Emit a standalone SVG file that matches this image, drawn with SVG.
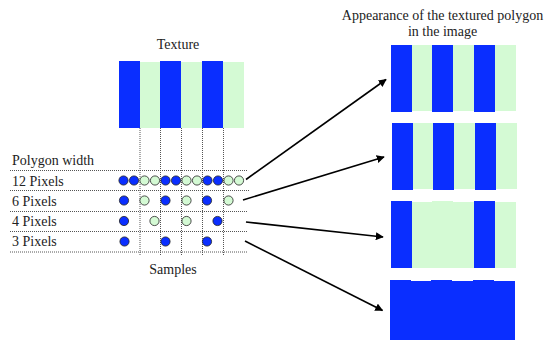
<svg xmlns="http://www.w3.org/2000/svg" width="547" height="343" viewBox="0 0 547 343">
<style>
text{font-family:"Liberation Serif","DejaVu Serif",serif;font-size:14px;fill:#222}
.b{fill:#0a2eff}
.g{fill:#d4fad4}
.cb{fill:#0a2eff;stroke:#222;stroke-width:0.8}
.cg{fill:#d4fad4;stroke:#222;stroke-width:0.8}
.dot{stroke:#555;stroke-width:1;stroke-dasharray:1 1;fill:none}
.arr{stroke:#000;stroke-width:1.6;fill:none;marker-end:url(#ah)}
</style>
<defs>
<marker id="ah" viewBox="0 0 10 10" refX="9" refY="5" markerWidth="5" markerHeight="5" orient="auto" markerUnits="strokeWidth">
<path d="M0,0 L10,5 L0,10 z" fill="#000"/>
</marker>
</defs>
<g id="texture">
<text x="178" y="49" text-anchor="middle">Texture</text>
<rect class="b" x="119" y="61" width="21" height="67"/>
<rect class="g" x="140" y="62" width="20" height="66"/>
<rect class="b" x="160" y="61" width="21" height="67"/>
<rect class="g" x="181" y="62" width="21" height="66"/>
<rect class="b" x="202" y="61" width="21" height="67"/>
<rect class="g" x="223" y="62" width="21" height="66"/>
</g>
<g id="grid">
<line class="dot" x1="140" y1="128" x2="140" y2="256"/>
<line class="dot" x1="160.5" y1="128" x2="160.5" y2="256"/>
<line class="dot" x1="181.5" y1="128" x2="181.5" y2="256"/>
<line class="dot" x1="202.5" y1="128" x2="202.5" y2="256"/>
<line class="dot" x1="223.5" y1="128" x2="223.5" y2="256"/>
<line class="dot" x1="10" y1="170.5" x2="247" y2="170.5"/>
<line class="dot" x1="10" y1="190.5" x2="250" y2="190.5"/>
<line class="dot" x1="10" y1="211.5" x2="248" y2="211.5"/>
<line class="dot" x1="10" y1="231.5" x2="248" y2="231.5"/>
<line class="dot" x1="10" y1="252" x2="247" y2="252"/>
</g>
<g id="labels">
<text x="12" y="165">Polygon width</text>
<text x="12" y="186">12 Pixels</text>
<text x="12" y="205.5">6 Pixels</text>
<text x="12" y="225.5">4 Pixels</text>
<text x="12" y="245.5">3 Pixels</text>
<text x="173" y="274" text-anchor="middle">Samples</text>
</g>
<g id="row12">
<circle class="cb" cx="123.5" cy="180.5" r="4.6"/>
<circle class="cb" cx="134" cy="180.5" r="4.6"/>
<circle class="cg" cx="144.5" cy="180.5" r="4.6"/>
<circle class="cg" cx="155" cy="180.5" r="4.6"/>
<circle class="cb" cx="165.5" cy="180.5" r="4.6"/>
<circle class="cb" cx="176" cy="180.5" r="4.6"/>
<circle class="cg" cx="186.5" cy="180.5" r="4.6"/>
<circle class="cg" cx="197" cy="180.5" r="4.6"/>
<circle class="cb" cx="207.5" cy="180.5" r="4.6"/>
<circle class="cb" cx="218" cy="180.5" r="4.6"/>
<circle class="cg" cx="228.5" cy="180.5" r="4.6"/>
<circle class="cg" cx="239" cy="180.5" r="4.6"/>
</g>
<g id="row6">
<circle class="cb" cx="124" cy="200.5" r="4.6"/>
<circle class="cg" cx="144.5" cy="200.5" r="4.6"/>
<circle class="cb" cx="165.5" cy="200.5" r="4.6"/>
<circle class="cg" cx="186.5" cy="200.5" r="4.6"/>
<circle class="cb" cx="207" cy="200.5" r="4.6"/>
<circle class="cg" cx="228.5" cy="200.5" r="4.6"/>
</g>
<g id="row4">
<circle class="cb" cx="124" cy="221" r="4.6"/>
<circle class="cg" cx="154.5" cy="221" r="4.6"/>
<circle class="cg" cx="186.5" cy="221" r="4.6"/>
<circle class="cb" cx="217.5" cy="221" r="4.6"/>
</g>
<g id="row3">
<circle class="cb" cx="124.5" cy="241.5" r="4.6"/>
<circle class="cb" cx="165.5" cy="241.5" r="4.6"/>
<circle class="cb" cx="207" cy="241.5" r="4.6"/>
</g>
<g id="title">
<text x="442.5" y="20" text-anchor="middle">Appearance of the textured polygon</text>
<text x="442.5" y="36" text-anchor="middle">in the image</text>
</g>
<g id="result12">
<rect class="b" x="391" y="45" width="21" height="67"/>
<rect class="g" x="412" y="45" width="20" height="66"/>
<rect class="b" x="432" y="45" width="21" height="67"/>
<rect class="g" x="453" y="45" width="21" height="66"/>
<rect class="b" x="474" y="45" width="21" height="67"/>
<rect class="g" x="495" y="45" width="21" height="66"/>
</g>
<g id="result6">
<rect class="b" x="392" y="123" width="21" height="67"/>
<rect class="g" x="413" y="123" width="20" height="66"/>
<rect class="b" x="433" y="123" width="21" height="67"/>
<rect class="g" x="454" y="123" width="21" height="66"/>
<rect class="b" x="475" y="123" width="21" height="67"/>
<rect class="g" x="496" y="123" width="21" height="66"/>
</g>
<g id="result4">
<rect class="b" x="391" y="201" width="21" height="67"/>
<rect class="g" x="412" y="202" width="62" height="66"/>
<rect class="g" x="432" y="201" width="21" height="67"/>
<rect class="b" x="474" y="201" width="21" height="67"/>
<rect class="g" x="495" y="202" width="21" height="66"/>
</g>
<g id="result3">
<rect class="b" x="390" y="281" width="125" height="59"/>
<rect class="b" x="390" y="280" width="21" height="2"/>
<rect class="b" x="431" y="280" width="21" height="2"/>
<rect class="b" x="473" y="280" width="21" height="2"/>
</g>
<g id="connectors">
<line class="arr" x1="246" y1="179.5" x2="386" y2="79.5"/>
<line class="arr" x1="243" y1="200" x2="384" y2="157"/>
<line class="arr" x1="246" y1="222" x2="383" y2="237"/>
<line class="arr" x1="245" y1="241" x2="382.5" y2="310.5"/>
</g>
</svg>
